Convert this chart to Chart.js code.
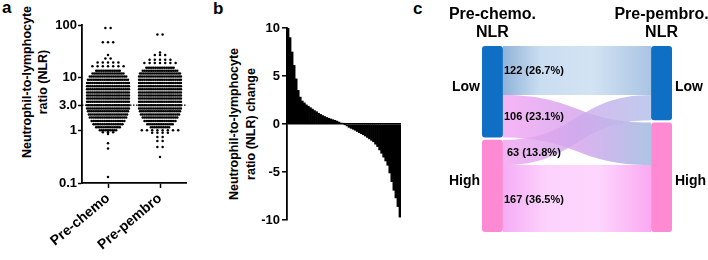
<!DOCTYPE html>
<html>
<head>
<meta charset="utf-8">
<script src="https://cdn.jsdelivr.net/npm/chart.js@4.4.0/dist/chart.umd.min.js"></script>
<style>
    body {margin: 0; width: 708px; height: 260px; position: relative; background: #fff; overflow: hidden;
        font-family: "Liberation Sans", Arial, sans-serif;}
    canvas {position: absolute; top: 0;}
    .panel {position: absolute; font-weight: bold; font-size: 17px; line-height: 17px;}
    .ytitle {position: absolute; font-weight: bold; font-size: 12.5px; text-align: center; white-space: nowrap;
        transform: rotate(-90deg); width: 200px;}
</style>
</head>
<body>
<div class="panel" style="left:2px;top:-1px">a</div>
<div class="panel" style="left:213px;top:0px">b</div>
<div class="panel" style="left:413px;top:0px">c</div>
<div class="ytitle" style="left:-65px;top:66px;line-height:16px">Neutrophil-to-lymphocyte<br>ratio (NLR)</div>
<div class="ytitle" style="left:143px;top:107px;line-height:17px">Neutrophil-to-lymphocyte<br>ratio (NLR) change</div>
<canvas id="chartA" width="200" height="260" style="left:0"></canvas>
<canvas id="chartB" width="210" height="260" style="left:200px"></canvas>
<canvas id="chartC" width="308" height="260" style="left:400px"></canvas>
<script>
// ---- panel a: NLR per patient, read as rows of the dot plot ----
const groupNames = ['Pre-chemo', 'Pre-pembro'];
const nlrTicks = [0.1, 1, 3, 10, 100];
const nlrTickLabels = ['0.1', '1', '3.0', '10', '100'];
const nlrCutoff = 3;

const chemoRowValues = [88, 47, 27, 23, 19.5, 16.5,
    13.5, 12, 10.5, 9.1, 7.9, 6.9, 6.0, 5.2, 4.6, 4.0, 3.5, 3.0, 2.6, 2.3, 2.0, 1.75, 1.5, 1.3, 1.15, 1.0,
    0.92, 0.85, 0.57, 0.45, 0.13];
const chemoRowCounts = [2, 3, 1, 2, 5, 7,
    14, 18, 21, 23, 24, 24, 24, 24, 24, 24, 24, 24, 24, 23, 22, 21, 19, 17, 14, 10,
    3, 1, 1, 1, 1];

const pembroRowValues = [66, 30, 27, 22, 19,
    15.5, 13.5, 12, 10.5, 9.1, 7.9, 6.9, 6.0, 5.2, 4.6, 4.0, 3.5, 3.0, 2.6, 2.3, 2.0, 1.75, 1.5, 1.3, 1.15, 1.0,
    0.9, 0.75, 0.63, 0.48, 0.31];
const pembroRowCounts = [2, 1, 3, 5, 7,
    16, 20, 23, 24, 24, 24, 24, 24, 24, 24, 24, 24, 24, 24, 23, 22, 20, 18, 15, 11, 8,
    4, 2, 2, 2, 1];

// ---- panel b: sorted NLR change per patient (waterfall) ----
const nlrChange = [10, 9.0, 7.5, 6.1, 4.7, 3.5, 2.8, 2.4, 2.2, 2.0, 1.85, 1.7, 1.55, 1.4, 1.28, 1.12, 1.0, 0.88,
    0.78, 0.68, 0.6, 0.52, 0.45, 0.38, 0.3, 0.2, 0.1, 0.03, -0.05, -0.2, -0.35, -0.45, -0.55, -0.65, -0.78,
    -0.9, -1.0, -1.12, -1.25, -1.4, -1.55, -1.7, -1.85, -2.1, -2.35, -2.7, -3.05, -3.45, -3.85, -4.3, -5.1,
    -6.0, -6.9, -7.7, -8.6, -9.7];

// ---- panel c: sankey of NLR group changes ----
const nodeNames = ['Low', 'High'];
const stageTitles = [['Pre-chemo.', 'NLR'], ['Pre-pembro.', 'NLR']];
const flowFrom = [0, 0, 1, 1];
const flowTo = [0, 1, 0, 1];
const flowCounts = [122, 106, 63, 167];
const flowPercents = [26.7, 23.1, 13.8, 36.5];

const FONT = '"Liberation Sans", Arial, sans-serif';
Chart.defaults.font.family = FONT;
Chart.defaults.color = '#000';

function swarm(idx, values, counts) {
    const pts = [];
    values.forEach((v, r) => {
        const n = counts[r];
        const step = n <= 8 ? 0.1 : 0.035;
        for (let j = 0; j < n; j++) pts.push({x: idx + (j - (n - 1) / 2) * step, y: v});
    });
    return pts;
}

const cutoffLine = {
    id: 'cutoffLine',
    beforeDatasetsDraw(chart) {
        const {ctx, chartArea, scales} = chart;
        const y = scales.y.getPixelForValue(nlrCutoff);
        ctx.save();
        ctx.setLineDash([1.5, 1.5]);
        ctx.lineWidth = 1.2;
        ctx.strokeStyle = '#000';
        ctx.beginPath();
        ctx.moveTo(chartArea.left, y);
        ctx.lineTo(chartArea.right, y);
        ctx.stroke();
        ctx.restore();
    }
};

new Chart(document.getElementById('chartA'), {
    type: 'scatter',
    data: {
        datasets: [
            {data: swarm(0, chemoRowValues, chemoRowCounts)},
            {data: swarm(1, pembroRowValues, pembroRowCounts)}
        ]
    },
    options: {
        responsive: false,
        animation: false,
        layout: {padding: {left: 0, right: 14, top: 25, bottom: 0}},
        plugins: {legend: {display: false}, tooltip: {enabled: false}},
        elements: {point: {radius: 1.25, backgroundColor: '#000', borderWidth: 0}},
        scales: {
            x: {
                type: 'linear', min: -0.5, max: 1.5,
                afterBuildTicks: s => { s.ticks = groupNames.map((n, i) => ({value: i})); },
                afterFit: s => { s.height = 77; },
                ticks: {
                    autoSkip: false, minRotation: 40, maxRotation: 40, padding: 2,
                    font: {size: 14, weight: 'bold'},
                    callback: (v, i) => groupNames[i]
                },
                grid: {drawOnChartArea: false, tickLength: 5, tickColor: '#000', tickWidth: 1.5},
                border: {color: '#000', width: 1.8}
            },
            y: {
                type: 'logarithmic', min: 0.1, max: 100,
                afterBuildTicks: s => { s.ticks = nlrTicks.map(v => ({value: v})); },
                afterFit: s => { s.width = 82; },
                ticks: {
                    autoSkip: false, padding: 1,
                    font: {size: 13, weight: 'bold'},
                    callback: (v, i) => nlrTickLabels[i]
                },
                grid: {drawOnChartArea: false, tickLength: 4, tickColor: '#000', tickWidth: 1.5},
                border: {color: '#000', width: 1.8}
            }
        }
    },
    plugins: [cutoffLine]
});

new Chart(document.getElementById('chartB'), {
    type: 'bar',
    data: {
        labels: nlrChange.map((v, i) => i + 1),
        datasets: [{data: nlrChange, backgroundColor: '#000', borderWidth: 0,
            categoryPercentage: 1, barPercentage: 1}]
    },
    options: {
        responsive: false,
        animation: false,
        layout: {padding: {left: 0, right: 9, top: 28, bottom: 40}},
        plugins: {legend: {display: false}, tooltip: {enabled: false}},
        scales: {
            x: {display: false},
            y: {
                min: -10, max: 10,
                afterFit: s => { s.width = 87; },
                ticks: {stepSize: 5, padding: 2, font: {size: 13, weight: 'bold'}},
                grid: {
                    color: c => (c.tick && c.tick.value === 0 ? '#000' : 'rgba(0,0,0,0)'),
                    lineWidth: 1.6, tickLength: 5, tickColor: '#000', tickWidth: 1.5
                },
                border: {color: '#000', width: 1.8}
            }
        }
    }
});

const flowGradients = [
    [[0, 'rgba(132,170,212,0.9)'], [0.25, 'rgba(196,218,239,0.9)'], [0.6, 'rgba(206,224,242,0.9)'], [1, 'rgba(160,190,224,0.9)']],
    [[0, 'rgba(244,162,244,0.8)'], [0.5, 'rgba(212,160,236,0.8)'], [1, 'rgba(160,186,224,0.85)']],
    [[0, 'rgba(240,160,240,0.8)'], [0.5, 'rgba(206,168,236,0.8)'], [1, 'rgba(180,194,234,0.85)']],
    [[0, 'rgba(244,164,244,0.9)'], [0.3, 'rgba(252,206,252,0.9)'], [0.65, 'rgba(252,208,252,0.9)'], [1, 'rgba(250,160,240,0.9)']]
];
const nodeColors = ['#0f6fc4', '#ff8ad4'];
const gapUnits = 6;
const nodeWidthUnits = 0.11;
const totalCount = flowCounts.reduce((a, b) => a + b, 0);

function stackNodes(keys) {
    let start = 0;
    return nodeNames.map((n, i) => {
        const total = flowCounts.reduce((s, c, k) => s + (keys[k] === i ? c : 0), 0);
        const node = {start, total};
        start += total + gapUnits;
        return node;
    });
}

function roundRect(ctx, x, y, w, h, r) {
    ctx.beginPath();
    ctx.moveTo(x + r, y);
    ctx.arcTo(x + w, y, x + w, y + h, r);
    ctx.arcTo(x + w, y + h, x, y + h, r);
    ctx.arcTo(x, y + h, x, y, r);
    ctx.arcTo(x, y, x + w, y, r);
    ctx.closePath();
}

const sankey = {
    id: 'sankey',
    afterDraw(chart) {
        const {ctx, scales: {x, y}} = chart;
        const left = stackNodes(flowFrom);
        const right = stackNodes(flowTo);
        const xL0 = x.getPixelForValue(0), xL1 = x.getPixelForValue(nodeWidthUnits);
        const xR0 = x.getPixelForValue(1 - nodeWidthUnits), xR1 = x.getPixelForValue(1);
        const xm = (xL1 + xR0) / 2;
        const outOff = left.map(n => n.start), inOff = right.map(n => n.start);
        ctx.save();
        const labelPos = [];
        flowCounts.forEach((c, k) => {
            const a0 = outOff[flowFrom[k]], b0 = inOff[flowTo[k]];
            outOff[flowFrom[k]] += c;
            inOff[flowTo[k]] += c;
            const ya0 = y.getPixelForValue(a0), ya1 = y.getPixelForValue(a0 + c);
            const yb0 = y.getPixelForValue(b0), yb1 = y.getPixelForValue(b0 + c);
            const g = ctx.createLinearGradient(xL1, 0, xR0, 0);
            flowGradients[k].forEach(([o, col]) => g.addColorStop(o, col));
            ctx.fillStyle = g;
            ctx.beginPath();
            ctx.moveTo(xL1, ya0);
            ctx.bezierCurveTo(xm, ya0, xm, yb0, xR0, yb0);
            ctx.lineTo(xR0, yb1);
            ctx.bezierCurveTo(xm, yb1, xm, ya1, xL1, ya1);
            ctx.closePath();
            ctx.fill();
            labelPos.push((ya0 + ya1) / 2 + 1);
        });
        [[left, xL0, xL1], [right, xR0, xR1]].forEach(([nodes, x0, x1]) => {
            nodes.forEach((n, i) => {
                const y0 = y.getPixelForValue(n.start), y1 = y.getPixelForValue(n.start + n.total);
                ctx.fillStyle = nodeColors[i];
                roundRect(ctx, x0, y0, x1 - x0, y1 - y0, 3);
                ctx.fill();
            });
        });
        ctx.fillStyle = '#000';
        ctx.textBaseline = 'middle';
        ctx.font = 'bold 11px ' + FONT;
        ctx.textAlign = 'center';
        flowCounts.forEach((c, k) => {
            ctx.fillText(c + ' (' + flowPercents[k].toFixed(1) + '%)', xL1 + 31, labelPos[k]);
        });
        ctx.font = 'bold 14px ' + FONT;
        nodeNames.forEach((n, i) => {
            const cl = y.getPixelForValue(left[i].start + left[i].total / 2);
            const cr = y.getPixelForValue(right[i].start + right[i].total / 2);
            const cy = (cl + cr) / 2;
            ctx.textAlign = 'right';
            ctx.fillText(n, xL0 - 2, cy);
            ctx.textAlign = 'left';
            ctx.fillText(n, xR1 + 3, cy);
        });
        ctx.font = 'bold 16px ' + FONT;
        ctx.textAlign = 'center';
        [(xL0 + xL1) / 2, (xR0 + xR1) / 2].forEach((cx, s) => {
            ctx.fillText(stageTitles[s][0], cx, 15);
            ctx.fillText(stageTitles[s][1], cx, 33);
        });
        ctx.restore();
    }
};

new Chart(document.getElementById('chartC'), {
    type: 'scatter',
    data: {datasets: []},
    options: {
        responsive: false,
        animation: false,
        layout: {padding: {left: 82, right: 36, top: 46, bottom: 28}},
        plugins: {legend: {display: false}, tooltip: {enabled: false}},
        scales: {
            x: {type: 'linear', min: 0, max: 1, display: false},
            y: {type: 'linear', min: 0, max: totalCount + gapUnits * (nodeNames.length - 1), reverse: true, display: false}
        }
    },
    plugins: [sankey]
});
</script>
</body>
</html>
